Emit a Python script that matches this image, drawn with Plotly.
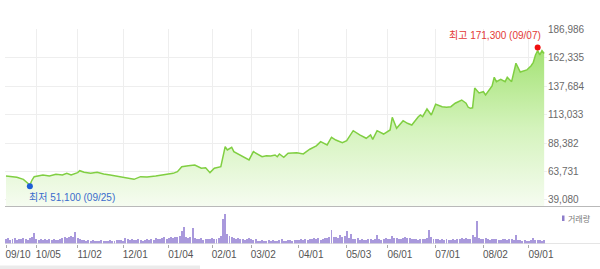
import plotly.graph_objects as go

# ---------------- data ----------------
# trading-day index (0 = 2020-09-10) and closing price readings
price_day = [0, 3, 5, 8, 10, 11, 12, 13, 17, 20, 23, 26, 28, 30, 33, 34, 36, 39, 42, 45,
             48, 51, 55, 58, 59, 62, 65, 69, 74, 77, 79, 81, 84, 87, 90, 92, 94, 96, 99, 100,
             101, 102, 104, 105, 107, 109, 111, 112, 114, 116, 118, 120, 122, 124, 125, 126, 128, 130, 134, 137,
             140, 143, 145, 148, 150, 152, 155, 157, 160, 163, 166, 168, 169, 171, 174, 177, 178, 180, 183, 185,
             187, 190, 191, 192, 194, 196, 198, 201, 203, 205, 207, 210, 212, 213, 214, 215, 216, 218, 220, 221,
             223, 224, 225, 226, 228, 230, 231, 233, 235, 237, 240, 242, 243, 244, 245, 246, 247, 248]
price_close = [59900, 59300, 58800, 57000, 54100, 52100, 56400, 59300, 60800, 59900, 61400, 60800, 62200, 60800, 62800, 64500, 63100, 62200, 63100, 61600,
               60800, 59900, 58800, 57900, 57000, 59300, 59000, 59900, 61400, 62200, 63600, 68000, 68800, 69400, 66600, 67100, 62800, 66600, 68000, 78000,
               85300, 82500, 84800, 81000, 79000, 77300, 75300, 73800, 81000, 78500, 76600, 77500, 77300, 78100, 76600, 79000, 76100, 79600, 80100, 79000,
               83100, 86000, 89700, 86800, 93500, 91100, 88800, 90500, 99200, 95500, 92600, 95500, 91700, 99200, 96300, 99800, 110800, 101300, 107900, 105600,
               104100, 111300, 112800, 111300, 118000, 112800, 122100, 120000, 119500, 120000, 123000, 125800, 123000, 119500, 118600, 119000, 136200, 131900, 133000, 130200,
               136000, 138000, 145500, 141700, 143800, 141700, 145500, 141700, 157700, 150100, 151900, 155600, 158500, 164900, 168600, 164900, 168600, 166200]

# daily volume (thousand shares)
volume = [420, 510, 380, 470, 530, 350, 460, 410, 560, 480, 390, 520, 650, 1100,
          480, 360, 420, 390, 450, 330, 410, 370, 440, 360, 400, 470, 520, 610, 580, 690, 720, 640,
          1200,
          560, 430, 380, 320, 290, 340, 270, 310, 260, 300, 280, 330, 250, 290, 270, 310, 260, 300,
          340, 310, 380, 290, 560, 420, 360, 450, 390, 330, 410, 370, 300, 350, 420, 380, 460, 400, 520, 430,
          480, 560, 610, 450, 530, 640, 580, 700, 620, 750,
          1300, 1650, 620, 540, 700, 1600,
          580, 470, 420, 510, 390, 440, 480, 410, 530, 460, 500, 580, 720,
          2500, 3000, 1000, 800, 680,
          560, 480, 520, 430, 470, 390, 450, 510, 420, 380, 440,
          300, 260, 340, 280, 250, 310, 270, 330, 290, 260, 320, 480, 300, 270, 350, 310, 280, 360, 400, 330, 420, 370, 450, 390, 480,
          420, 510, 460, 550, 390, 480, 600, 520, 700,
          1400,
          620, 700, 560, 820, 680, 760,
          1300, 600, 1000,
          480, 420, 510, 380, 450, 400, 360, 470, 420, 390, 500,
          820,
          430, 380, 460, 520, 410, 490,
          720,
          520, 600, 480, 450, 560, 620, 540, 580, 500, 470, 430, 390, 440, 410, 480, 520,
          1400,
          620, 480, 420, 460, 390, 410, 370, 440, 400, 360, 420, 380, 430, 460, 520, 480, 560, 500, 440,
          900, 620, 2300,
          560, 480, 420, 510, 450, 390, 470, 430, 480, 400, 360, 440, 410, 380, 420, 460, 400,
          880,
          380, 320, 290, 340, 300, 260, 310,
          520,
          380, 340, 310, 290, 330]
volume_day = list(range(len(volume)))

tick_day = [0, 14, 33, 54, 75, 95, 113, 135, 157, 176, 198, 220, 241]
tick_label = ["09/10", "10/05", "11/02", "12/01", "01/04", "02/01", "03/02",
              "04/01", "05/03", "06/01", "07/01", "08/02", "09/01"]

price_ticks = [39080, 63731, 88382, 113033, 137684, 162335, 186986]

high_day, high_val, high_text = 245, 171300, "최고 171,300 (09/07)"
low_day, low_val, low_text = 11, 51100, "최저 51,100 (09/25)"

# ---------------- layout geometry (pixels) ----------------
W, H = 600, 269
ML, MR = 5, 53
def fx(px):  # pixel x -> paper
    return (px - ML) / (W - ML - MR)
def fy(py):  # pixel y -> paper
    return (H - py) / H

FONT = "Liberation Sans, Arial, Noto Sans CJK KR, sans-serif"

fig = go.Figure()

fig.add_trace(go.Scatter(
    x=price_day, y=price_close, mode="lines",
    line=dict(color="#80cf42", width=1.5),
    fill="tozeroy",
    fillgradient=dict(type="vertical", start=33000, stop=170000,
                      colorscale=[[0, "#f6fcf1"], [0.5, "#d4f3bc"], [1, "#a3e273"]]),
    hoverinfo="skip", xaxis="x", yaxis="y", showlegend=False))

fig.add_trace(go.Scatter(x=[low_day], y=[low_val], mode="markers",
                         marker=dict(color="#1d5fd6", size=6),
                         xaxis="x", yaxis="y", showlegend=False, hoverinfo="skip"))
fig.add_trace(go.Scatter(x=[high_day], y=[high_val], mode="markers",
                         marker=dict(color="#f01010", size=6),
                         xaxis="x", yaxis="y", showlegend=False, hoverinfo="skip"))

fig.add_trace(go.Bar(x=volume_day, y=volume, width=0.45,
                     marker=dict(color="#a999dc", line=dict(width=0)),
                     xaxis="x2", yaxis="y2", showlegend=False, hoverinfo="skip"))

xr = [-0.46, -0.46 + (W - ML - MR) / 2.17]

fig.update_layout(
    width=W, height=H,
    margin=dict(l=ML, r=MR, t=0, b=0, autoexpand=False),
    paper_bgcolor="white", plot_bgcolor="rgba(0,0,0,0)",
    font=dict(family=FONT, size=10, color="#666"),
    bargap=0,
    xaxis=dict(domain=[0, 1], range=xr, anchor="y", tickvals=tick_day,
               showticklabels=False, ticks="", showgrid=True, gridcolor="#eeeeee",
               gridwidth=1, zeroline=False, showline=False),
    yaxis=dict(domain=[fy(207), fy(29)], range=[33000, 187400], side="right",
               tickvals=price_ticks, tickformat=",d", showgrid=True,
               gridcolor="#eeeeee", zeroline=False, showline=False, ticks="",
               tickfont=dict(size=10, color="#6a6a6a"), automargin=False),
    xaxis2=dict(domain=[0, 1], range=xr, anchor="y2", tickvals=tick_day,
                ticktext=tick_label, showgrid=False, zeroline=False, showline=False,
                ticks="outside", ticklen=3, tickcolor="#aaaaaa", tickwidth=1,
                ticklabelshift=12, ticklabelstandoff=-2,
                tickfont=dict(size=10, color="#555"), automargin=False),
    yaxis2=dict(domain=[fy(243.5), fy(211)], range=[0, 3250], showticklabels=False,
                showgrid=False, zeroline=False, showline=False, ticks="", automargin=False),
    shapes=[
        dict(type="line", xref="paper", yref="y", x0=0, x1=fx(600), y0=33000, y1=33000,
             line=dict(color="#b9b9b9", width=2)),
        dict(type="line", xref="paper", yref="y2", x0=0, x1=fx(600), y0=0, y1=0,
             line=dict(color="#cccccc", width=1)),
        dict(type="rect", xref="paper", yref="paper", x0=fx(562), x1=fx(564.5),
             y0=fy(221), y1=fy(215.5), fillcolor="#8d7dca", line=dict(width=0)),
        dict(type="rect", xref="paper", yref="paper", x0=fx(0), x1=fx(200),
             y0=fy(269), y1=fy(265.5), fillcolor="#ebebeb", line=dict(width=0)),
    ],
    annotations=[
        dict(x=high_day, y=high_val, xref="x", yref="y", text=high_text, showarrow=False,
             xanchor="right", yanchor="middle", xshift=5, yshift=12,
             font=dict(size=10, color="#e33a35", family=FONT)),
        dict(x=low_day, y=low_val, xref="x", yref="y", text=low_text, showarrow=False,
             xanchor="left", yanchor="middle", xshift=-3, yshift=-11,
             font=dict(size=10, color="#3a6ccc", family=FONT)),
        dict(x=fx(565.5), y=fy(218.5), xref="paper", yref="paper", text="거래량",
             showarrow=False, xanchor="left", yanchor="middle",
             font=dict(size=8, color="#777", family=FONT)),
    ],
)

fig.write_html("out.html")
